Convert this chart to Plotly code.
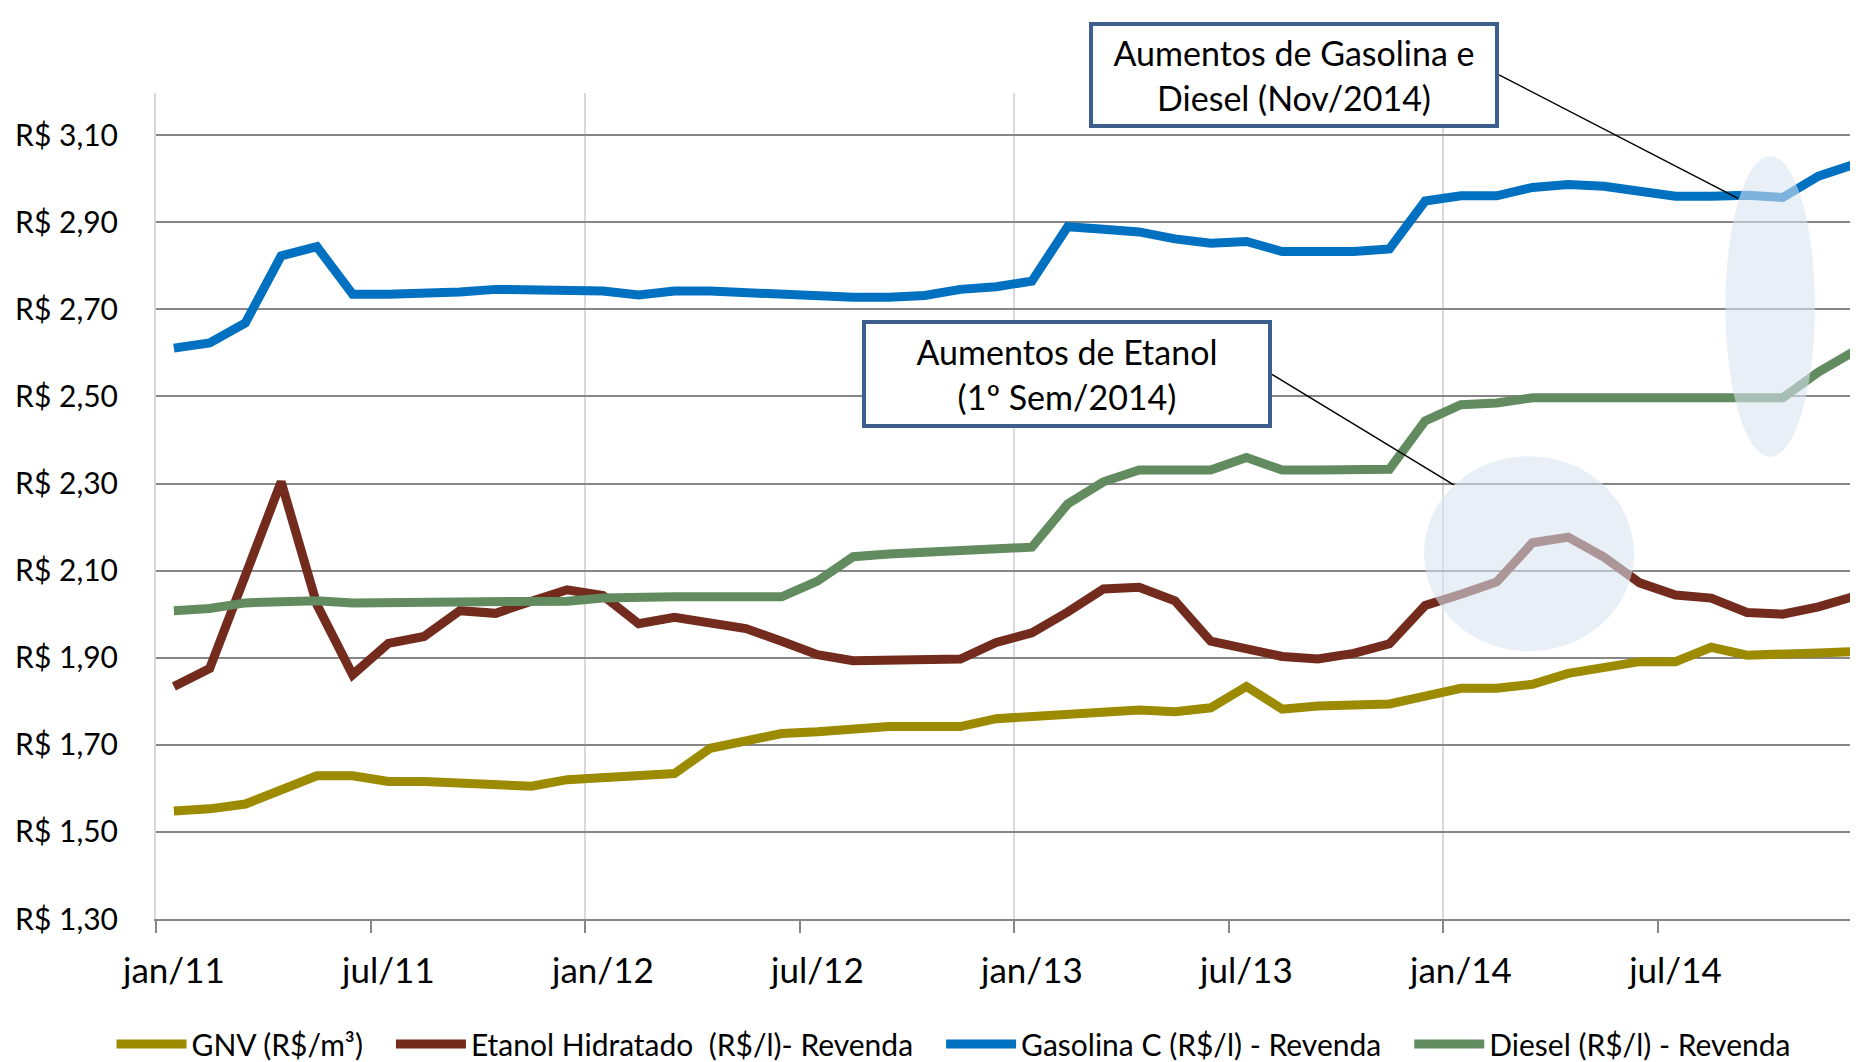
import plotly.graph_objects as go

# ---------------- data ----------------
month_labels = ["jan/11", "jul/11", "jan/12", "jul/12", "jan/13", "jul/13", "jan/14", "jul/14"]
label_positions = [0, 6, 12, 18, 24, 30, 36, 42]
months = list(range(48))

gnv = [1.548, 1.553, 1.564, 1.598, 1.629, 1.629, 1.616, 1.616, 1.611, 1.611, 1.605, 1.620,
       1.625, 1.632, 1.634, 1.692, 1.708, 1.726, 1.730, 1.737, 1.742, 1.742, 1.742, 1.760,
       1.764, 1.768, 1.773, 1.780, 1.776, 1.785, 1.834, 1.782, 1.789, 1.789, 1.794, 1.812,
       1.830, 1.830, 1.839, 1.864, 1.875, 1.891, 1.891, 1.924, 1.906, 1.906, 1.911, 1.914]

etanol = [1.834, 1.875, 2.089, 2.304, 2.022, 1.861, 1.933, 1.949, 2.008, 2.002, 2.030, 2.056,
          2.043, 1.978, 1.993, 1.982, 1.967, 1.938, 1.907, 1.893, 1.893, 1.893, 1.897, 1.935,
          1.957, 2.005, 2.058, 2.062, 2.031, 1.938, 1.923, 1.903, 1.897, 1.910, 1.932, 2.020,
          2.046, 2.074, 2.164, 2.177, 2.131, 2.072, 2.044, 2.037, 2.004, 2.000, 2.017, 2.041]

gasolina = [2.611, 2.623, 2.669, 2.823, 2.844, 2.735, 2.735, 2.735, 2.740, 2.746, 2.746, 2.746,
            2.742, 2.733, 2.742, 2.742, 2.738, 2.733, 2.733, 2.728, 2.728, 2.732, 2.746, 2.752,
            2.765, 2.890, 2.884, 2.878, 2.862, 2.852, 2.856, 2.833, 2.833, 2.833, 2.839, 2.949,
            2.961, 2.961, 2.980, 2.987, 2.983, 2.972, 2.960, 2.960, 2.962, 2.957, 3.006, 3.033]

diesel = [2.008, 2.013, 2.026, 2.031, 2.031, 2.026, 2.026, 2.026, 2.026, 2.030, 2.030, 2.030,
          2.037, 2.040, 2.040, 2.040, 2.040, 2.040, 2.076, 2.132, 2.138, 2.143, 2.149, 2.149,
          2.154, 2.253, 2.304, 2.331, 2.331, 2.331, 2.360, 2.331, 2.331, 2.331, 2.333, 2.444,
          2.481, 2.485, 2.497, 2.497, 2.497, 2.497, 2.497, 2.497, 2.497, 2.497, 2.556, 2.604]

y_ticks = [1.30, 1.50, 1.70, 1.90, 2.10, 2.30, 2.50, 2.70, 2.90, 3.10]
y_ticktext = ["R$ 1,30", "R$ 1,50", "R$ 1,70", "R$ 1,90", "R$ 2,10",
              "R$ 2,30", "R$ 2,50", "R$ 2,70", "R$ 2,90", "R$ 3,10"]

series_names = ["GNV (R$/m³)", "Etanol Hidratado\u00a0\u00a0(R$/l)- Revenda",
                "Gasolina C (R$/l) - Revenda", "Diesel (R$/l) - Revenda"]
series_values = [gnv, etanol, gasolina, diesel]
series_colors = ["#9c8a00", "#722b1d", "#0070c0", "#628b5f"]

X_RANGE = [-0.5, 47.33]
Y_RANGE = [1.30, 3.197]

FONT = "Lato, 'Open Sans', sans-serif"
GAP = "\u00a0" * 3

fig = go.Figure()
for name, vals, color in zip(series_names, series_values, series_colors):
    fig.add_trace(go.Scatter(x=months, y=vals, name=name + GAP, mode="lines",
                             line=dict(color=color, width=9)))

# dummy trace for label axis
fig.add_trace(go.Scatter(x=[0], y=[None], xaxis="x2", yaxis="y", showlegend=False,
                         hoverinfo="skip", mode="lines"))


def px(i):
    return (i - X_RANGE[0]) / (X_RANGE[1] - X_RANGE[0])


def py(v):
    return (v - Y_RANGE[0]) / (Y_RANGE[1] - Y_RANGE[0])


shapes = [
    # highlight ellipses
    dict(type="circle", xref="x", yref="y", x0=43.4, x1=45.9, y0=2.361, y1=3.052,
         fillcolor="rgb(215,227,240)", opacity=0.58, line=dict(width=0), layer="above"),
    dict(type="circle", xref="x", yref="y", x0=34.97, x1=40.84, y0=1.915, y1=2.363,
         fillcolor="rgb(215,227,240)", opacity=0.58, line=dict(width=0), layer="above"),
    # connector lines
    dict(type="line", xref="paper", yref="paper", x0=0.7854, y0=1.022,
         x1=px(43.75), y1=py(2.955), line=dict(color="black", width=1.5), layer="above"),
    dict(type="line", xref="paper", yref="paper", x0=0.6526, y0=0.6594,
         x1=px(35.8), y1=py(2.297), line=dict(color="black", width=1.5), layer="above"),
]

annotations = [
    dict(xref="paper", yref="paper", x=0.6655, y=1.022, xanchor="center", yanchor="middle",
         text="Aumentos de Gasolina e<br>Diesel (Nov/2014)", showarrow=False,
         font=dict(family=FONT, size=34, color="black"), bgcolor="white",
         bordercolor="#3c5f8d", borderwidth=4, borderpad=0, width=402, height=98),
    dict(xref="paper", yref="paper", x=0.5327, y=0.6594, xanchor="center", yanchor="middle",
         text="Aumentos de Etanol<br>(1º Sem/2014)", showarrow=False,
         font=dict(family=FONT, size=34, color="black"), bgcolor="white",
         bordercolor="#3c5f8d", borderwidth=4, borderpad=0, width=402, height=100),
]

fig.update_layout(
    width=1858, height=1062, autosize=False,
    margin=dict(l=148, r=0, t=85, b=144),
    paper_bgcolor="white", plot_bgcolor="white",
    font=dict(family=FONT, color="black"),
    xaxis=dict(range=X_RANGE, tickmode="linear", tick0=-0.5, dtick=12,
               showgrid=True, gridcolor="#d9d9d9", gridwidth=2,
               ticks="outside", ticklen=12, tickwidth=2, tickcolor="#868686",
               showticklabels=False, zeroline=False,
               showline=True, linecolor="#868686", linewidth=2,
               minor=dict(tick0=-0.5, dtick=6, ticks="outside", ticklen=12, tickwidth=2,
                          tickcolor="#868686", showgrid=False)),
    xaxis2=dict(overlaying="x", matches="x", anchor="y", side="bottom",
                tickmode="array", tickvals=label_positions, ticktext=month_labels,
                showgrid=False, zeroline=False, showline=False, ticks="",
                tickfont=dict(family=FONT, size=35, color="black"),
                ticklabelstandoff=28),
    yaxis=dict(range=Y_RANGE, tickmode="array", tickvals=y_ticks, ticktext=y_ticktext,
               showgrid=True, gridcolor="#868686", gridwidth=2, zeroline=False,
               showline=True, linecolor="#d9d9d9", linewidth=2,
               tickfont=dict(family=FONT, size=30, color="black"),
               ticklabelstandoff=30),
    legend=dict(orientation="h", x=-0.026, xanchor="left", y=-0.152, yanchor="middle",
                font=dict(family=FONT, size=30, color="black"), itemwidth=70,
                bgcolor="rgba(0,0,0,0)", tracegroupgap=0),
    shapes=shapes,
    annotations=annotations,
    showlegend=True,
)

fig.write_html("out.html")
